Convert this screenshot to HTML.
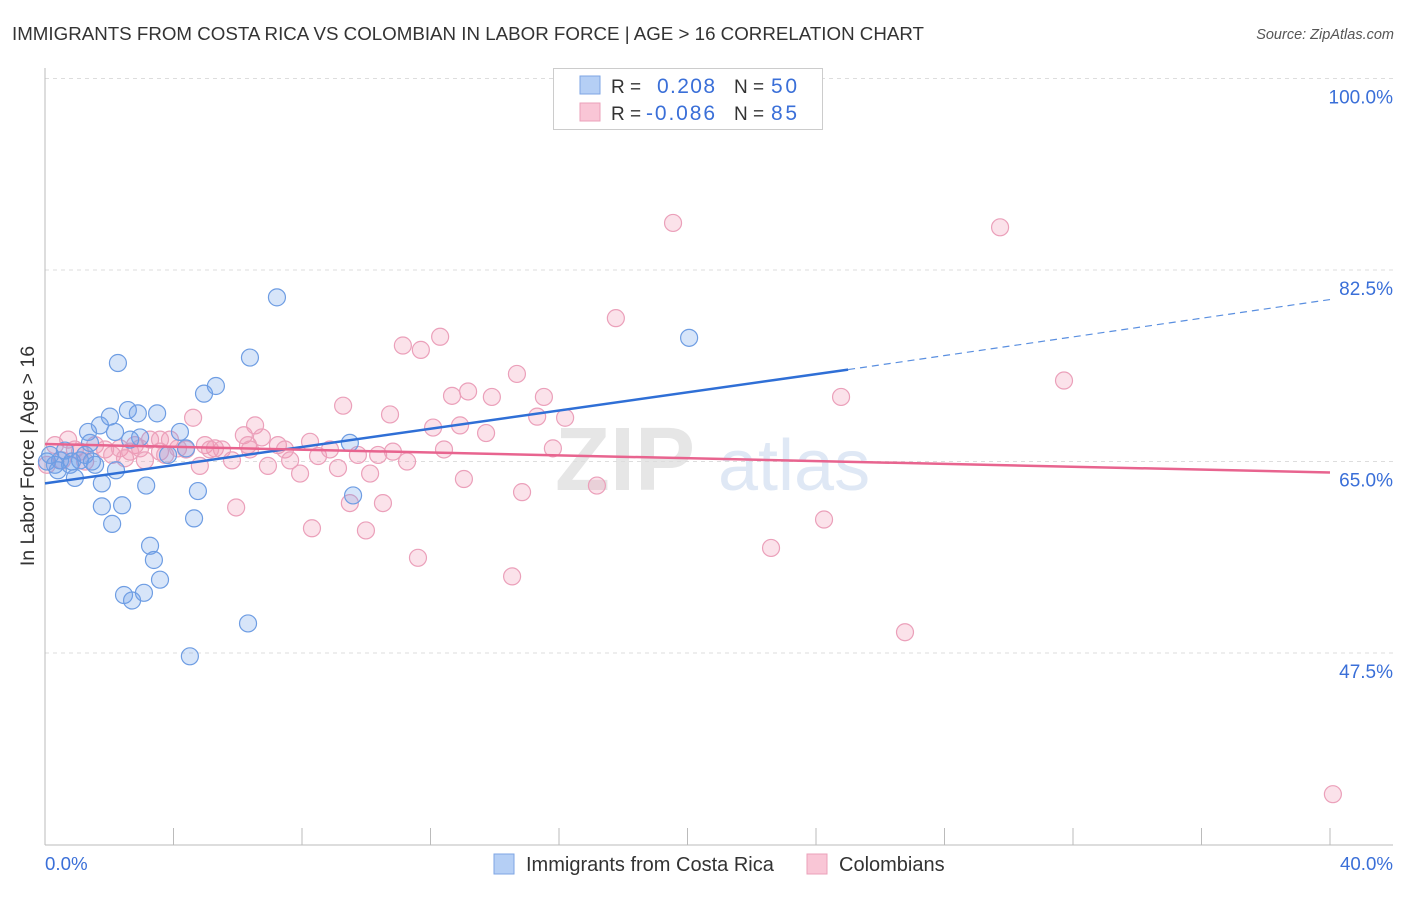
<!DOCTYPE html>
<html><head><meta charset="utf-8"><style>
body{margin:0;background:#fff;font-family:"Liberation Sans",sans-serif}
svg text{font-family:"Liberation Sans",sans-serif}
</style></head><body>
<svg id="chart" width="1406" height="892" xmlns="http://www.w3.org/2000/svg">
<text x="12" y="40" font-size="18.5" fill="#333" textLength="912" lengthAdjust="spacingAndGlyphs">IMMIGRANTS FROM COSTA RICA VS COLOMBIAN IN LABOR FORCE | AGE &gt; 16 CORRELATION CHART</text>
<text x="1394" y="39" font-size="14.5" fill="#555" font-style="italic" text-anchor="end">Source: ZipAtlas.com</text>
<g><text x="555" y="490" font-size="90" fill="#e6e6e6" font-family="Liberation Serif" font-weight="bold">ZIP</text><text x="718" y="490" font-size="72" fill="#dfe8f5">atlas</text></g>
<g id="grid"></g>
<g id="axes"></g>
<g id="pts"></g>
<g id="trend"></g>
<g>
<rect x="553.5" y="68.5" width="269" height="61" fill="#fff" stroke="#ccc"/>
<rect x="580" y="76" width="20" height="18" fill="#b5cff5" stroke="#7ea6e4"/>
<rect x="580" y="103" width="20" height="18" fill="#f9c6d6" stroke="#eba0ba"/>
<text x="611" y="93" font-size="19" fill="#333">R = </text><text x="657" y="93" font-size="21" fill="#3a6fd8" textLength="58">0.208</text>
<text x="734" y="93" font-size="19" fill="#333">N = </text><text x="771" y="93" font-size="21" fill="#3a6fd8" textLength="26">50</text>
<text x="611" y="120" font-size="19" fill="#333">R = </text><text x="646" y="120" font-size="21" fill="#3a6fd8" textLength="69">-0.086</text>
<text x="734" y="120" font-size="19" fill="#333">N = </text><text x="771" y="120" font-size="21" fill="#3a6fd8" textLength="26">85</text>
</g>
<g>
<rect x="494" y="854" width="20" height="20" fill="#b5cff5" stroke="#7ea6e4"/>
<text x="526" y="871" font-size="20" fill="#333">Immigrants from Costa Rica</text>
<rect x="807" y="854" width="20" height="20" fill="#f9c6d6" stroke="#eba0ba"/>
<text x="839" y="871" font-size="20" fill="#333">Colombians</text>
</g>
<text transform="translate(34,456) rotate(-90)" font-size="19.5" fill="#333" text-anchor="middle">In Labor Force | Age &gt; 16</text>
</svg>
<script>
const blueX=[0.16,0.31,0.47,0.62,0.78,0.93,1.09,1.25,1.34,1.40,1.56,1.71,1.77,1.77,2.02,2.09,2.18,2.21,2.27,2.40,2.46,2.58,2.71,2.89,2.96,3.08,3.15,3.27,3.39,3.49,3.58,3.83,4.20,4.39,4.51,4.64,4.76,4.95,5.32,6.32,6.38,7.22,9.49,9.59,20.05,0.06,0.40,0.84,1.46,2.65];
const blueY=[65.6,64.7,65.1,66.0,64.7,63.5,65.1,65.6,67.7,66.7,64.7,68.3,63.0,60.9,69.1,59.3,67.7,64.2,74.0,61.0,52.8,69.7,52.3,69.4,67.2,53.0,62.8,57.3,56.0,69.4,54.2,65.6,67.7,66.2,47.2,59.8,62.3,71.2,71.9,50.2,74.5,80.0,66.7,61.9,76.3,65.0,64.2,65.0,65.0,67.0];
const pinkX=[0.06,0.31,0.53,0.72,0.93,1.25,1.56,1.87,2.09,2.33,2.49,2.80,2.96,3.27,3.58,3.74,3.89,4.14,4.39,4.61,4.82,4.98,5.29,5.51,5.82,5.95,6.19,6.32,6.54,6.75,6.94,7.25,7.47,7.63,7.94,8.25,8.31,8.50,8.87,9.12,9.28,9.49,9.74,9.99,10.12,10.37,10.52,10.74,10.83,11.14,11.27,11.61,11.70,12.08,12.30,12.42,12.67,13.04,13.17,13.73,13.91,14.54,14.69,14.85,15.32,15.53,15.81,16.19,17.18,17.77,19.55,22.60,24.25,24.78,26.77,29.73,31.72,40.09,1.09,2.65,3.11,3.58,5.14,12.92,6.38];
const pinkY=[64.7,66.5,65.1,67.0,66.1,65.0,66.5,66.1,65.6,66.2,65.3,66.5,66.2,67.0,65.9,65.6,67.0,66.2,66.1,69.0,64.6,66.5,66.2,66.1,65.1,60.8,67.4,66.5,68.3,67.2,64.6,66.5,66.1,65.1,63.9,66.8,58.9,65.5,66.1,64.4,70.1,61.2,65.6,58.7,63.9,65.6,61.2,69.3,65.9,75.6,65.0,56.2,75.2,68.1,76.4,66.1,71.0,63.4,71.4,67.6,70.9,54.5,73.0,62.2,69.1,70.9,66.2,69.0,62.8,78.1,86.8,57.1,59.7,70.9,49.4,86.4,72.4,34.6,65.9,65.9,65.1,67.0,66.1,68.3,66.1];
const yTicks=[100,82.5,65,47.5];
const yTickLabels=["100.0%","82.5%","65.0%","47.5%"];
const xTicks=[0,4,8,12,16,20,24,28,32,36,40];
const blueTrend=[[0,63.0],[25.0,73.4],[40,79.8]];
const pinkTrend=[[0,66.6],[40,64.0]];
const NS="http://www.w3.org/2000/svg";
const sx=v=>45+v*32.125;
const sy=v=>78.5+(100-v)*10.943;
function mk(parent,tag,attrs){const e=document.createElementNS(NS,tag);for(const k in attrs)e.setAttribute(k,attrs[k]);document.getElementById(parent).appendChild(e);return e;}
yTicks.forEach((t,i)=>{
 const g=mk('grid','line',{x1:45,x2:1393,y1:sy(t),y2:sy(t),stroke:'#ddd','stroke-dasharray':'4,4'});
 
 
 const l=mk('axes','text',{x:1393,y:sy(t)+25,'font-size':19,fill:'#3a6fd8','text-anchor':'end'});
 l.textContent=yTickLabels[i];
 
 
});
const ya=mk('axes','line',{x1:45,x2:45,y1:68,y2:845,stroke:'#bbb'});


const xa=mk('axes','line',{x1:45,x2:1393,y1:845,y2:845,stroke:'#bbb'});


xTicks.forEach(t=>{
 const k=mk('axes','line',{x1:sx(t),x2:sx(t),y1:828,y2:845,stroke:'#bbb'});
 
 
});
const x0=mk('axes','text',{x:45,y:870,'font-size':18.7,fill:'#3a6fd8'});x0.textContent='0.0%';


const x1=mk('axes','text',{x:1393,y:870,'font-size':18.7,fill:'#3a6fd8','text-anchor':'end'});x1.textContent='40.0%';


pinkX.forEach((x,i)=>{
 const c=mk('pts','circle',{cx:sx(x),cy:sy(pinkY[i]),r:8.5,fill:'rgba(242,150,180,0.28)',stroke:'#eba0ba','stroke-width':1.2});
 
 
});
blueX.forEach((x,i)=>{
 const c=mk('pts','circle',{cx:sx(x),cy:sy(blueY[i]),r:8.5,fill:'rgba(110,160,235,0.28)',stroke:'#6e9de3','stroke-width':1.2});
 
 
});
const bt1=mk('trend','line',{x1:sx(blueTrend[0][0]),y1:sy(blueTrend[0][1]),x2:sx(blueTrend[1][0]),y2:sy(blueTrend[1][1]),stroke:'#2f6fd6','stroke-width':2.5});


const bt2=mk('trend','line',{x1:sx(blueTrend[1][0]),y1:sy(blueTrend[1][1]),x2:sx(blueTrend[2][0]),y2:sy(blueTrend[2][1]),stroke:'#5a8fe0','stroke-width':1.2,'stroke-dasharray':'7,5'});


const pt=mk('trend','line',{x1:sx(pinkTrend[0][0]),y1:sy(pinkTrend[0][1]),x2:sx(pinkTrend[1][0]),y2:sy(pinkTrend[1][1]),stroke:'#e8648f','stroke-width':2.5});


</script>
</body></html>
